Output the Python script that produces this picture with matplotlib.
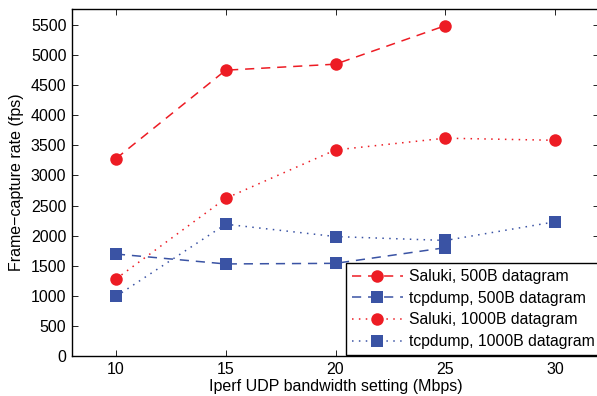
import matplotlib
matplotlib.use("Agg")
import matplotlib.pyplot as plt

plt.rcParams['font.family'] = ['Liberation Sans', 'DejaVu Sans']

bandwidth = [10, 15, 20, 25, 30]
saluki_500 = [3280, 4750, 4850, 5490]
tcpdump_500 = [1695, 1530, 1540, 1800]
saluki_1000 = [1280, 2620, 3425, 3620, 3585]
tcpdump_1000 = [990, 2190, 1985, 1920, 2230]

red = '#ED1C24'
blue = '#3A53A4'

fig = plt.figure(figsize=(5.97, 3.96), dpi=100)
ax = fig.add_axes([72 / 597, 40 / 396, 527 / 597, 347 / 396])

ax.plot(bandwidth[:4], saluki_500, linestyle=(0, (6, 4.5)), color=red, lw=1.1,
        marker='o', markersize=9, markeredgewidth=0, label='Saluki, 500B datagram')
ax.plot(bandwidth[:4], tcpdump_500, linestyle=(0, (6, 4.5)), color=blue, lw=1.1,
        marker='s', markersize=8, markeredgewidth=0, label='tcpdump, 500B datagram')
ax.plot(bandwidth, saluki_1000, linestyle=(0, (1, 3.5)), color=red, lw=1.1,
        marker='o', markersize=9, markeredgewidth=0, label='Saluki, 1000B datagram')
ax.plot(bandwidth, tcpdump_1000, linestyle=(0, (1, 3.5)), color=blue, lw=1.1,
        marker='s', markersize=8, markeredgewidth=0, label='tcpdump, 1000B datagram')

ax.set_xlim(8, 32)
ax.set_ylim(0, 5767)
ax.set_xticks(bandwidth)
ax.set_yticks(range(0, 5501, 500))
ax.tick_params(direction='in', top=True, right=True, length=4, width=0.6,
               labelsize=11.5, pad=4)
for side in ax.spines.values():
    side.set_linewidth(1.0)

ax.set_xlabel('Iperf UDP bandwidth setting (Mbps)', fontsize=11.5, labelpad=2)
ax.set_ylabel('Frame\u2212capture rate (fps)', fontsize=11.5, labelpad=5)

leg = ax.legend(loc='upper left', bbox_to_anchor=(346 / 597, 133 / 396),
                bbox_transform=fig.transFigure, fontsize=11.3, frameon=True,
                fancybox=False, edgecolor='black', framealpha=1,
                handlelength=3.2, handletextpad=0.4, borderpad=0.4,
                labelspacing=0.42, borderaxespad=0)
leg.get_frame().set_linewidth(1.0)

fig.savefig('out.png', dpi=100)
